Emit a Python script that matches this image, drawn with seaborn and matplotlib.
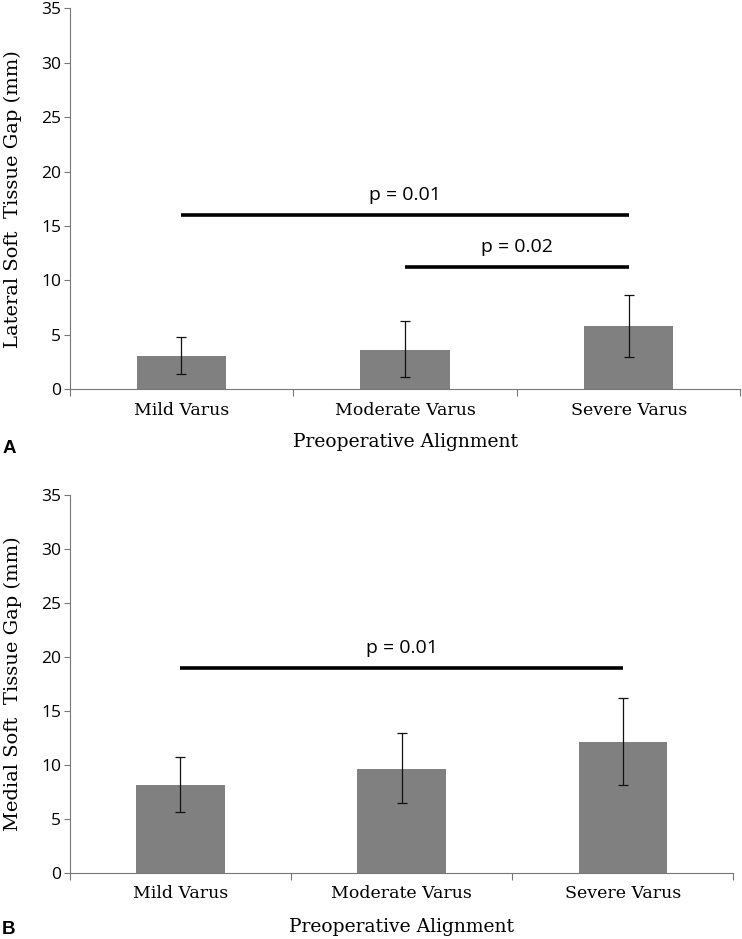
import matplotlib
matplotlib.use("Agg")
import matplotlib.pyplot as plt
import seaborn as sns
import pandas as pd
import numpy as np

categories = ["Mild Varus", "Moderate Varus", "Severe Varus"]

lateral_mean = [3.05, 3.65, 5.8]
lateral_low = [1.38, 1.1, 2.94]
lateral_high = [4.83, 6.3, 8.69]

medial_mean = [8.1, 9.6, 12.1]
medial_low = [5.6, 6.5, 8.1]
medial_high = [10.7, 12.9, 16.15]

lateral_sig = [(0, 2, 16.0, "p = 0.01"), (1, 2, 11.2, "p = 0.02")]
medial_sig = [(0, 2, 19.0, "p = 0.01")]

yticks = [0, 5, 10, 15, 20, 25, 30, 35]

sns.set_theme(style="white")
plt.rcParams["font.family"] = ["DejaVu Serif"]
plt.rcParams["text.color"] = "black"
plt.rcParams["axes.labelcolor"] = "black"
plt.rcParams["xtick.color"] = "black"
plt.rcParams["ytick.color"] = "black"

SANS = ["Open Sans", "DejaVu Sans"]

fig = plt.figure(figsize=(7.42, 9.39), dpi=100)
W, H = 742, 939

def make_panel(rect, means, lows, highs, sigs, ylabel, letter, letter_y, xlab_y):
    ax = fig.add_axes(rect)
    df = pd.DataFrame({"cat": categories, "val": means})
    sns.barplot(data=df, x="cat", y="val", color="#808080", saturation=1,
                width=0.4, ax=ax, errorbar=None, edgecolor="none")
    xs = np.arange(len(categories))
    m = np.array(means)
    yerr = np.vstack([m - np.array(lows), np.array(highs) - m])
    ax.errorbar(xs, m, yerr=yerr, fmt="none", ecolor="#111111",
                elinewidth=0.9, capsize=3.5, capthick=0.9)
    for a, b, h, txt in sigs:
        ax.plot([a, b], [h, h], color="black", lw=2.6, solid_capstyle="butt")
        ax.text((a + b) / 2, h + 1.0, txt, ha="center", va="bottom",
                fontsize=14, family=SANS, color="black")
    ax.set_xlim(-0.5, 2.5)
    ax.set_ylim(0, 35)
    ax.set_yticks(yticks)
    ax.set_yticklabels([str(t) for t in yticks], family=SANS, fontsize=12.5)
    ax.set_xticks(xs)
    ax.set_xticklabels(categories, fontsize=12.5)
    ax.tick_params(axis="x", length=0, pad=9)
    ax.set_xticks([-0.5, 0.5, 1.5, 2.5], minor=True)
    ax.tick_params(axis="x", which="minor", length=5, direction="out",
                   color="#777777", width=0.8, bottom=True)
    ax.tick_params(axis="y", length=4, direction="out", color="#777777",
                   width=0.8, left=True, pad=2)
    for s in ["top", "right"]:
        ax.spines[s].set_visible(False)
    for s in ["left", "bottom"]:
        ax.spines[s].set_color("#777777")
        ax.spines[s].set_linewidth(0.8)
    ax.set_xlabel("")
    ax.set_ylabel(ylabel, fontsize=14)
    ax.yaxis.set_label_coords((22 - 69.6) / (rect[2] * W), 0.5)
    fig.text(0.5 * (rect[0] * 2 + rect[2]), xlab_y, "Preoperative Alignment",
             ha="center", va="center", fontsize=13.5, color="black")
    fig.text(0.003, letter_y, letter, ha="left", va="center", fontsize=13.5,
             fontweight="bold", family=["Liberation Sans", "DejaVu Sans"],
             color="black")
    return ax

axA = make_panel([69.6 / W, 1 - 389.3 / H, (740.5 - 69.6) / W, (389.3 - 8.3) / H],
                 lateral_mean, lateral_low, lateral_high, lateral_sig,
                 "Lateral Soft  Tissue Gap (mm)", "A", 1 - 449 / H, 1 - 442 / H)
axB = make_panel([69.6 / W, 1 - 872.7 / H, (733.5 - 69.6) / W, (872.7 - 495) / H],
                 medial_mean, medial_low, medial_high, medial_sig,
                 "Medial Soft  Tissue Gap (mm)", "B", 1 - 929 / H, 1 - 927 / H)

fig.savefig("out.png", dpi=100)
